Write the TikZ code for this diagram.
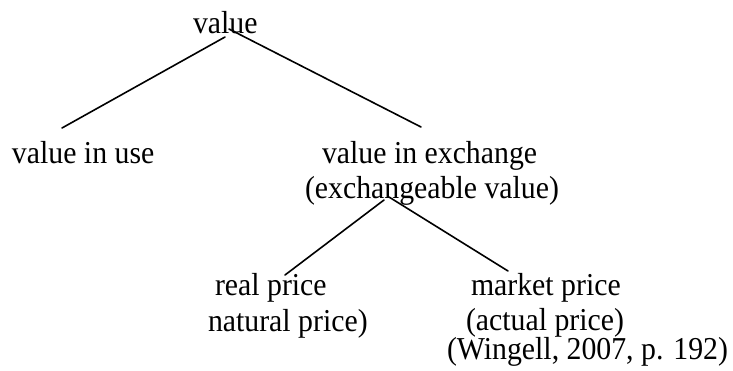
\documentclass[tikz,border=0pt]{standalone}
\usepackage{fontspec}
\setmainfont{Liberation Serif}
\newcommand{\tallertext}[1]{\scalebox{1}[1.07]{#1}}
\begin{document}
\begin{tikzpicture}[x=1pt,y=-1pt,
  lbl/.style={anchor=base west,inner sep=0pt,outer sep=0pt,font=\fontsize{29.8pt}{35pt}\selectfont},
  edge/.style={line width=1.6pt,line cap=round}]
\useasboundingbox (0,0) rectangle (733,370);
\node[lbl] (value) at (193,33) {\tallertext{value}};
\node[lbl] (use) at (12,163) {\tallertext{value in use}};
\node[lbl] (exch) at (322,163) {\tallertext{value in exchange}};
\node[lbl] (exch2) at (305,198) {\tallertext{(exchangeable value)}};
\node[lbl] (real) at (215,295) {\tallertext{real price}};
\node[lbl] (real2) at (208,331) {\tallertext{natural price)}};
\node[lbl] (market) at (471,295) {\tallertext{market price}};
\node[lbl] (market2) at (466,330) {\tallertext{(actual price)}};
\node[lbl] (cite) at (447,359.5) {\tallertext{(Wingell, 2007, p. 192)}};
\coordinate (vL) at (225,37);
\coordinate (vR) at (229,29);
\coordinate (useTop) at (62,128);
\coordinate (exchTop) at (421,127);
\coordinate (eL) at (384,200);
\coordinate (eR) at (389,197);
\coordinate (realTop) at (285,275);
\coordinate (marketTop) at (508,271);
\draw[edge] (vL) -- (useTop);
\draw[edge] (vR) -- (exchTop);
\draw[edge] (eL) -- (realTop);
\draw[edge] (eR) -- (marketTop);
\end{tikzpicture}
\end{document}
